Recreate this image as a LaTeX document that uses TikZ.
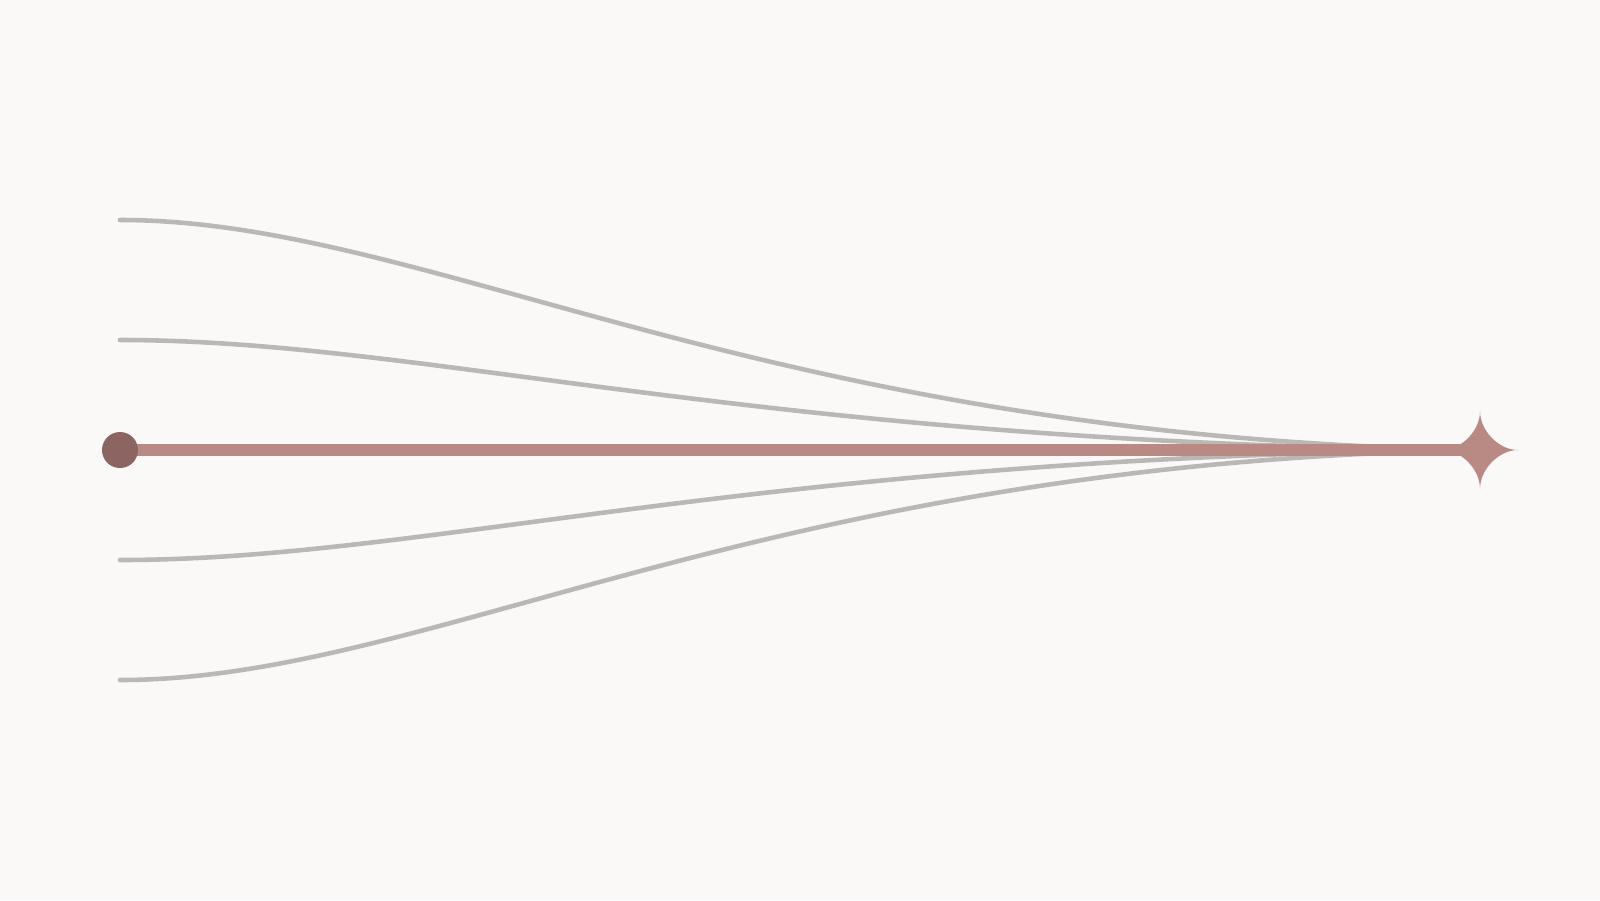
\documentclass[tikz,border=0pt]{standalone}
\usetikzlibrary{positioning}
\definecolor{paper}{HTML}{FAF9F7}
\definecolor{trunkred}{HTML}{B98A84}
\definecolor{dotred}{HTML}{8C6461}
\definecolor{strandgray}{HTML}{B9B8B5}
\begin{document}
\begin{tikzpicture}

\tikzset{vertex/.style = {shape=circle,fill=dotred,minimum size=0.36cm,inner sep=0pt}}
\tikzset{strand/.style = {draw=strandgray,line width=1.3pt,line cap=round}}
\tikzset{trunk/.style = {draw=trunkred,line width=3.5pt}}
\fill[paper] (-1.2,-4.5) rectangle (14.8,4.5);
% vertices
\coordinate (src) at (0,0);
\coordinate (dst) at (13.6,0);
\coordinate (s1) at (0,2.3);
\coordinate (s2) at (0,1.1);
\coordinate (s3) at (0,-1.1);
\coordinate (s4) at (0,-2.3);
%edges
\draw[strand] (s1) .. controls (3.1,2.3) and (6.4,0.12) .. (dst);
\draw[strand] (s2) .. controls (3.1,1.1) and (6.4,0.057) .. (dst);
\draw[strand] (s3) .. controls (3.1,-1.1) and (6.4,-0.057) .. (dst);
\draw[strand] (s4) .. controls (3.1,-2.3) and (6.4,-0.12) .. (dst);
\draw[trunk] (src) -- (dst);
\node[vertex] (dot) at (src) {};
% star
\fill[trunkred, shift={(dst)}] (0,0.39) .. controls (0,0.19) and (0.19,0) .. (0.38,0)
  .. controls (0.19,0) and (0,-0.19) .. (0,-0.39)
  .. controls (0,-0.19) and (-0.19,0) .. (-0.38,0)
  .. controls (-0.19,0) and (0,0.19) .. cycle;
\end{tikzpicture}
\end{document}
